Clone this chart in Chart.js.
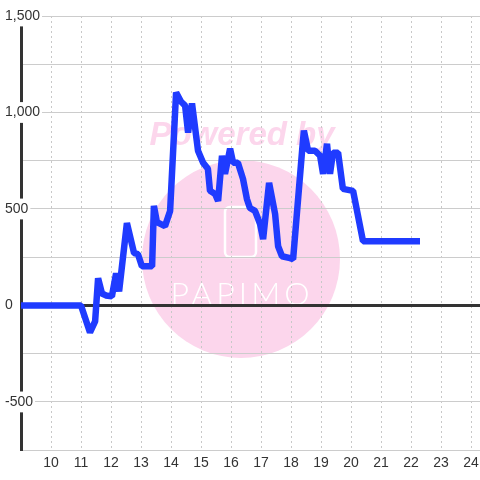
<!DOCTYPE html>
<html>
<head>
<meta charset="utf-8">
<script src="https://cdn.jsdelivr.net/npm/chart.js@4"></script>
<style>
  html, body { margin: 0; padding: 0; background: #fff; }
</style>
</head>
<body>
<canvas id="hourChart" width="480" height="480"></canvas>
<script>
// hour of day (x) and value (y)
const hours = [8.5, 11.0, 11.3, 11.47, 11.57, 11.7, 11.83, 12.03, 12.17, 12.27, 12.53, 12.77, 12.9, 13.03, 13.37,
  13.43, 13.53, 13.8, 13.97, 14.17, 14.33, 14.47, 14.57, 14.7, 14.9, 15.07, 15.23, 15.3, 15.47, 15.57,
  15.7, 15.8, 15.97, 16.07, 16.23, 16.4, 16.53, 16.63, 16.8, 16.97, 17.07, 17.27, 17.47, 17.57, 17.7,
  17.97, 18.07, 18.37, 18.43, 18.57, 18.8, 18.97, 19.07, 19.2, 19.3, 19.4, 19.57, 19.73, 20.07, 20.4, 22.3];
const values = [0, 0, -140, -83, 141, 62, 52, 47, 167, 73, 427, 271, 266, 203, 203,
  516, 432, 411, 490, 1104, 1057, 1036, 896, 1047, 802, 740, 708, 594, 578, 542,
  776, 682, 812, 740, 740, 656, 552, 505, 490, 422, 344, 635, 474, 307, 255,
  245, 240, 802, 906, 802, 802, 776, 682, 838, 682, 792, 792, 604, 594, 333, 333];
const xTickHours = [10, 11, 12, 13, 14, 15, 16, 17, 18, 19, 20, 21, 22, 23, 24];
const yLabelValues = [-500, 0, 500, 1000, 1500];

Chart.defaults.font.family = "'Liberation Sans', Arial, sans-serif";
Chart.defaults.font.size = 14;
Chart.defaults.color = "#333";

// pink "Powered by" watermark behind the grid
const watermark = {
  id: "watermark",
  beforeDraw(chart) {
    const c = chart.ctx;
    c.save();
    c.fillStyle = "#fff";
    c.fillRect(0, 0, chart.width, chart.height);
    c.fillStyle = "#fcd6ec";
    c.beginPath();
    c.arc(241, 259, 99, 0, Math.PI * 2);
    c.fill();
    c.font = "italic bold 33px 'Liberation Sans', Arial, sans-serif";
    c.textAlign = "center";
    c.textBaseline = "alphabetic";
    c.fillText("Powered by", 242, 145);
    c.strokeStyle = "#fff";
    c.lineWidth = 2.5;
    c.beginPath();
    c.roundRect(225, 207, 31, 50, 5);
    c.stroke();
    c.fillStyle = "#fff";
    c.font = "300 32px Lato, sans-serif";
    c.letterSpacing = "4px";
    c.fillText("PAPIMO", 242, 305);
    c.restore();
  }
};

const ctx = document.getElementById("hourChart");

new Chart(ctx, {
  type: "line",
  data: {
    datasets: [
      {
        data: hours.map((h, i) => ({ x: h, y: values[i] })),
        borderColor: "#1f3bff",
        borderWidth: 6.5,
        borderJoinStyle: "bevel",
        pointRadius: 0,
        tension: 0,
        fill: false,
      },
    ],
  },
  options: {
    responsive: false,
    animation: false,
    layout: { padding: { left: 0, top: 16, right: 0, bottom: 3 } },
    plugins: { legend: { display: false }, tooltip: { enabled: false } },
    scales: {
      x: {
        type: "linear",
        min: 9,
        max: 24.3,
        afterFit: (scale) => { scale.paddingLeft = 0; scale.paddingRight = 0; },
        grid: {
          drawTicks: false,
          color: (c) => (c.tick && c.tick.value === 9 ? "rgba(0,0,0,0)" : "#c8c8c8"),
          lineWidth: 1,
        },
        border: { display: true, color: "#ccc", width: 1, dash: [2, 3] },
        ticks: {
          stepSize: 1,
          includeBounds: false,
          autoSkip: false,
          maxRotation: 0,
          padding: 5,
          callback: (v) => (xTickHours.includes(v) ? String(v) : ""),
        },
      },
      y: {
        min: -750,
        max: 1500,
        afterFit: (scale) => { scale.width = 21; },
        grid: {
          drawTicks: false,
          color: (c) => (c.tick && c.tick.value === 0 ? "#333" : "#ccc"),
          lineWidth: (c) => (c.tick && c.tick.value === 0 ? 3 : 1),
        },
        border: { display: true, color: "#333", width: 3 },
        ticks: {
          stepSize: 250,
          mirror: true,
          crossAlign: "near",
          padding: -16,
          showLabelBackdrop: true,
          backdropPadding: 2,
          backdropColor: (c) => (c.tick && yLabelValues.includes(c.tick.value) ? "#fff" : "rgba(0,0,0,0)"),
          callback: (v) => (yLabelValues.includes(v) ? v.toLocaleString("en-US") : ""),
        },
      },
    },
  },
  plugins: [watermark],
});
</script>
</body>
</html>
